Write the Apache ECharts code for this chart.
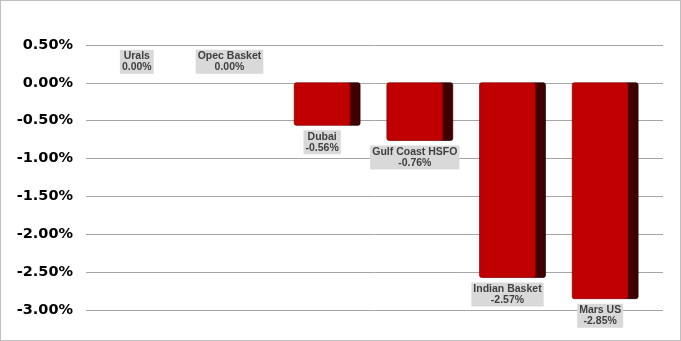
<!DOCTYPE html>
<html><head><meta charset="utf-8">
<script src="https://cdn.jsdelivr.net/npm/echarts@6/dist/echarts.min.js"></script>
<style>html,body{margin:0;padding:0;background:#fff}#c{width:681px;height:341px;box-sizing:border-box;border:1px solid #bfbfbf}</style>
</head><body><div id="c"></div>
<script>
const categories = ['Urals','Opec Basket','Dubai','Gulf Coast HSFO','Indian Basket','Mars US'];
const values = [0.00, 0.00, -0.56, -0.76, -2.57, -2.85];
const yTicks = {min: -3.0, max: 0.5, interval: 0.5};

const chart = echarts.init(document.getElementById('c'));
chart.setOption({
  animation: false,
  grid: {left: 85, right: 17, top: 44, bottom: 30},
  xAxis: {type: 'value', min: -0.602, max: 5.624, show: false, splitLine: {show: false}},
  yAxis: {type: 'value', min: yTicks.min, max: yTicks.max, interval: yTicks.interval,
    axisLabel: {formatter: v => v.toFixed(2) + '%', fontFamily: 'DejaVu Sans', fontWeight: 'bold', fontSize: 14.5, color: '#000', margin: 13},
    splitLine: {lineStyle: {color: '#a6a6a6', width: 1}}, axisLine: {show: false}, axisTick: {show: false}},
  series: [{
    type: 'custom',
    data: values.map((v, i) => [i, v]),
    renderItem: function (params, api) {
      const i = api.value(0), v = api.value(1);
      const p0 = api.coord([i, 0]);
      const p1 = api.coord([i, v]);
      const band = api.size([1, 0])[0];
      const total = band * 0.71;
      const side = 10;
      const face = total - side;
      const left = p0[0] - total / 2;
      const children = [];
      const label = categories[i] + '\n' + v.toFixed(2) + '%';
      const font = 'bold 10.5px "Liberation Sans"';
      if (v !== 0) {
        const top = p0[1], h = p1[1] - p0[1];
        children.push({type: 'rect', shape: {x: left + face - 3, y: top, width: side + 3, height: h, r: 2},
          style: {fill: '#3f0000', stroke: '#2a0000', lineWidth: 0.8}});
        children.push({type: 'rect', shape: {x: left, y: top, width: face, height: h, r: 2},
          style: {fill: '#c00000', stroke: '#8c0000', lineWidth: 0.8}});
        children.push({type: 'text', x: left + face / 2, y: p1[1] + 5,
          style: {text: label, fill: '#404040', font: font, align: 'center', verticalAlign: 'top',
            backgroundColor: '#d9d9d9', padding: [1, 2], lineHeight: 11}});
      } else {
        children.push({type: 'text', x: left + face / 2, y: p0[1] - 9,
          style: {text: label, fill: '#404040', font: font, align: 'center', verticalAlign: 'bottom',
            backgroundColor: '#d9d9d9', padding: [1, 2], lineHeight: 11}});
      }
      return {type: 'group', children: children};
    }
  }]
});
</script></body></html>
